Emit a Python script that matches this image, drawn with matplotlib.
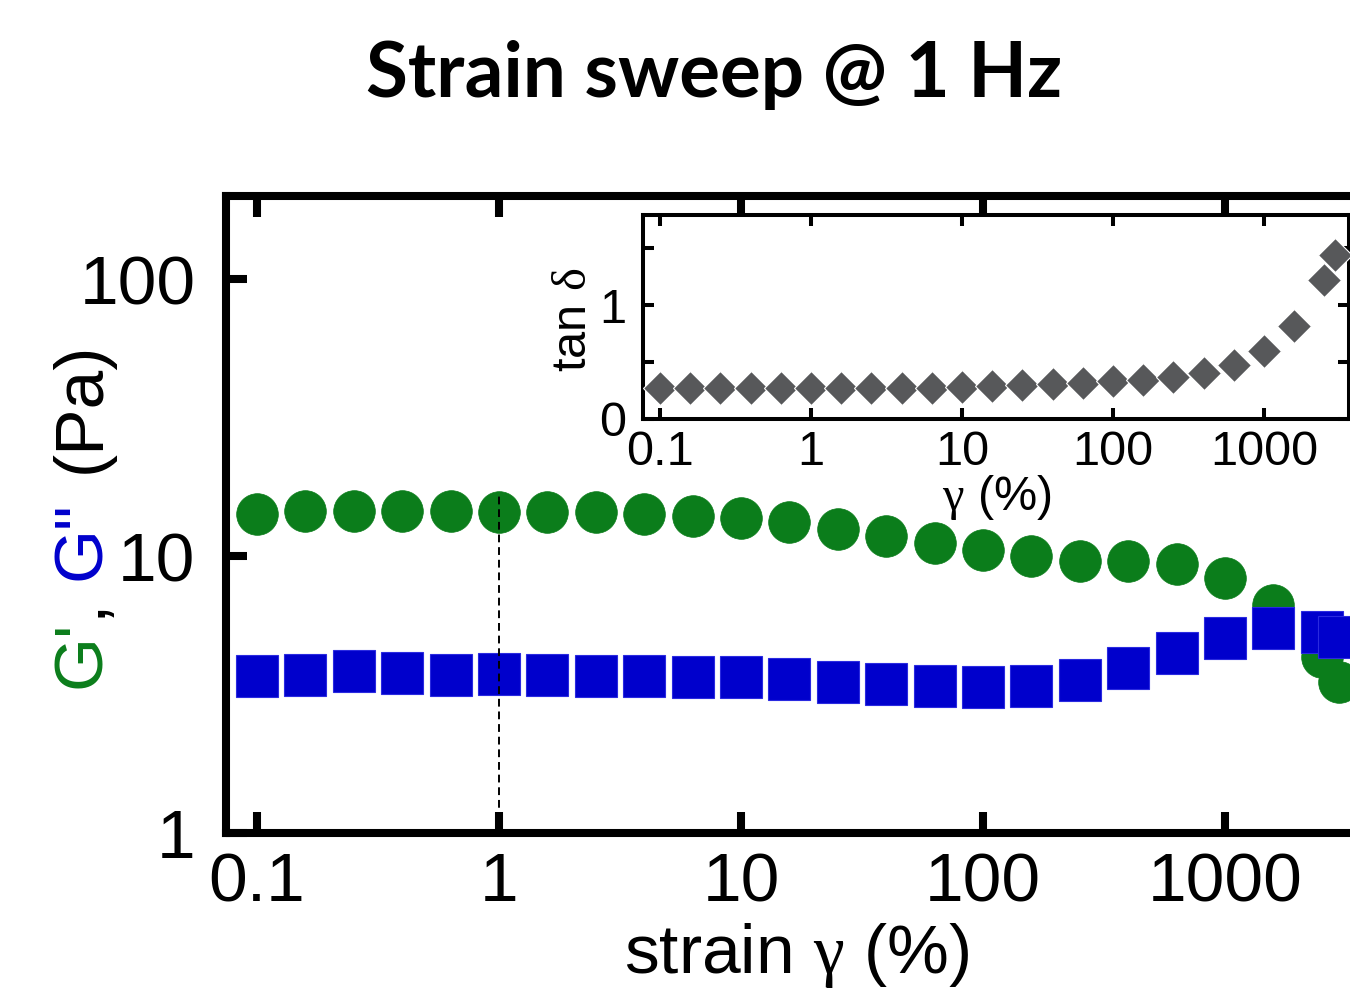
import matplotlib
matplotlib.use("Agg")
import matplotlib.pyplot as plt
import numpy as np

# ---------------- data ----------------
strain = [0.1, 0.158, 0.251, 0.398, 0.631, 1, 1.58, 2.51, 3.98, 6.31,
          10, 15.8, 25.1, 39.8, 63.1, 100, 158, 251, 398, 631,
          1000, 1580, 2510, 2950]
G_storage = [14.2, 14.5, 14.5, 14.5, 14.5, 14.4, 14.4, 14.4, 14.2, 13.9,
             13.7, 13.3, 12.5, 11.8, 11.1, 10.5, 10.0, 9.6, 9.6, 9.36,
             8.33, 6.65, 4.32, 3.51]
G_loss = [3.69, 3.72, 3.84, 3.78, 3.72, 3.75, 3.72, 3.69, 3.69, 3.66,
          3.66, 3.60, 3.51, 3.45, 3.39, 3.37, 3.39, 3.57, 3.94, 4.47,
          5.05, 5.50, 5.30, 5.10]
tan_delta = [0.27, 0.27, 0.27, 0.27, 0.27, 0.27, 0.27, 0.27, 0.27, 0.27,
             0.28, 0.29, 0.30, 0.31, 0.315, 0.33, 0.34, 0.37, 0.40, 0.47,
             0.60, 0.82, 1.22, 1.44]
x_ticks = [0.1, 1, 10, 100, 1000]
x_ticklabels = ["0.1", "1", "10", "100", "1000"]
y_ticks = [1, 10, 100]
y_ticklabels = ["1", "10", "100"]
inset_yticks = [0, 0.5, 1, 1.5]
inset_yticklabels = ["0", "", "1", ""]
marker_strain = 1
marker_top = 16.9

GREEN = "#0b7d1b"
BLUE = "#0000cc"
GREY = "#57585a"

plt.rcParams['font.family'] = ['Liberation Sans', 'DejaVu Sans']
plt.rcParams['mathtext.fontset'] = 'custom'
plt.rcParams['mathtext.it'] = 'Liberation Serif'
plt.rcParams['mathtext.rm'] = 'Liberation Serif'

W, H = 1350, 989
fig = plt.figure(figsize=(W / 100, H / 100), dpi=100)


def fx(x):
    return x / W


def fy(y):
    return 1 - y / H


# ---------------- main axes ----------------
ax = fig.add_axes([fx(226), fy(833), (1467 - 226) / W, (833 - 196) / H])
ax.set_xscale('log')
ax.set_yscale('log')
ax.set_xlim(0.0744, 1e4)
ax.set_ylim(1, 199.4)

ax.plot(strain, G_storage, 'o', color=GREEN, ms=30, mec=GREEN, mew=0.5,
        zorder=3)
ax.plot(strain, G_loss, 's', color=BLUE, ms=30.5, mec="#2a2ae0", mew=0.8,
        zorder=4)
ax.plot([marker_strain, marker_strain], [1, marker_top], color='black',
        lw=1.4, linestyle=(0, (4, 2.5)), zorder=5)

for s in ax.spines.values():
    s.set_linewidth(5.8)
ax.spines['right'].set_visible(False)

ax.set_xticks(x_ticks, x_ticklabels)
ax.set_yticks(y_ticks, y_ticklabels)
ax.minorticks_off()
ax.tick_params(which='major', direction='in', length=15, width=5.8,
               labelsize=50, top=True, right=False, color='black')
ax.tick_params(axis='x', pad=13)
ax.tick_params(axis='y', pad=22)

# main x label
fig.text(fx(797), fy(955), r"strain $\gamma$ (%)", ha='center', va='center',
         fontsize=50)

# main y label (multi-coloured)
pieces = [("G'", GREEN, 688), (",", "black", 617), ('G"', BLUE, 580),
          ("(Pa)", "black", 473)]
for txt, col, ystart in pieces:
    fig.text(fx(100), fy(ystart), txt, color=col, fontsize=50, rotation=90,
             rotation_mode='anchor', ha='left', va='baseline')

# ---------------- inset ----------------
ins = fig.add_axes([fx(643), fy(419), (1349 - 643) / W, (419 - 215) / H])
ins.set_facecolor('white')
ins.set_xscale('log')
ins.set_xlim(0.0772, 3656)
ins.set_ylim(0, 1.79)
ins.plot(strain, tan_delta, 'D', color=GREY, ms=17.5, mec='white', mew=0.8,
         zorder=3)
for s in ins.spines.values():
    s.set_linewidth(2.9)
ins.set_xticks(x_ticks, x_ticklabels)
ins.set_yticks(inset_yticks, inset_yticklabels)
ins.minorticks_off()
ins.tick_params(which='major', direction='in', length=8, width=2.9,
                labelsize=35, top=True, right=True)
ins.tick_params(axis='x', pad=8)
ins.tick_params(axis='y', pad=12)

fig.text(fx(997), fy(498), r"$\gamma$ (%)", ha='center', va='center',
         fontsize=35)
fig.text(fx(574), fy(320), r"tan $\delta$", ha='center', va='center',
         fontsize=35, rotation=90)

# ---------------- title ----------------
fig.text(fx(714), fy(75), "Strain sweep @ 1 Hz", ha='center', va='center',
         fontsize=55, fontweight='bold', family=['Lato', 'DejaVu Sans'])

fig.savefig("out.png", dpi=100)
